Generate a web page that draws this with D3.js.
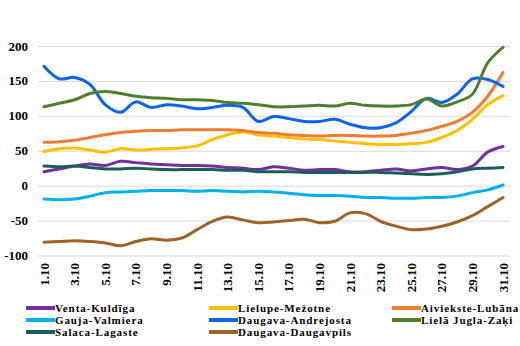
<!DOCTYPE html>
<html lang="lv">
<head>
<meta charset="UTF-8">
<title>Ūdens līmenis</title>
<script src="https://cdn.jsdelivr.net/npm/d3@7"></script>
<style>
  body { margin: 0; background: #fff; }
  text { font-family: "Liberation Serif", "Times New Roman", serif; font-weight: bold; fill: #000; }
  .grid line { stroke: #d9d9d9; stroke-width: 1; }
  .grid .domain { display: none; }
  .line { fill: none; stroke-width: 3; stroke-linecap: round; stroke-linejoin: round; }
</style>
</head>
<body>
<svg width="520" height="346"></svg>
<script>
// days of October
var days = d3.range(1, 32).map(function(d) { return d + ".10"; });
var yTicks = [-100, -50, 0, 50, 100, 150, 200];

var venta      = [20,24,28,31,29,35,33,31,30,29,29,28,26,25,23,27,25,22,23,23,20,20,22,24,21,24,26,23,28,48,56];
var lielupe    = [49,53,54,51,48,53,51,52,53,54,57,66,73,77,73,71,69,67,66,64,62,60,59,59,60,62,69,79,95,116,129];
var aiviekste  = [62,63,65,69,73,76,78,79,79,80,80,80,80,79,76,75,73,72,71,72,72,71,71,72,75,79,85,92,105,128,162];
var gauja      = [-19,-20,-19,-15,-10,-9,-8,-7,-7,-7,-8,-7,-8,-9,-8,-9,-11,-13,-14,-14,-15,-17,-17,-18,-18,-17,-17,-15,-10,-6,1];
var andrejosta = [171,153,155,145,116,105,120,112,116,114,110,112,115,112,92,99,96,92,92,95,88,83,83,90,106,125,119,131,153,152,142];
var jugla      = [113,118,123,132,135,132,128,126,125,123,123,122,119,118,116,113,113,114,115,114,118,115,114,114,116,124,114,120,131,176,198];
var salaca     = [28,27,28,26,24,24,25,24,23,23,23,23,22,22,20,20,20,19,19,19,19,19,19,18,17,16,17,20,24,25,26];
var daugavpils = [-81,-80,-79,-80,-82,-86,-80,-76,-78,-75,-63,-51,-45,-49,-53,-52,-50,-48,-53,-51,-39,-40,-51,-58,-63,-62,-58,-52,-43,-30,-17];

var series = [
  { name: "Venta-Kuldīga",       values: venta,      color: "#7030a0" },
  { name: "Lielupe-Mežotne",     values: lielupe,    color: "#ffc000" },
  { name: "Aiviekste-Lubāna",    values: aiviekste,  color: "#ed7d31" },
  { name: "Gauja-Valmiera",      values: gauja,      color: "#00b0f0" },
  { name: "Daugava-Andrejosta",  values: andrejosta, color: "#0a64f0" },
  { name: "Lielā Jugla-Zaķi",    values: jugla,      color: "#4f7f2c" },
  { name: "Salaca-Lagaste",      values: salaca,     color: "#1d5d5b" },
  { name: "Daugava-Daugavpils",  values: daugavpils, color: "#9e6427" }
];

var svg = d3.select("svg");

var x = d3.scalePoint().domain(days).range([44, 503]);
var y = d3.scaleLinear().domain([-100, 200]).range([255.5, 46]);

// horizontal grid
svg.append("g")
    .attr("class", "grid")
    .attr("transform", "translate(38,0)")
    .call(d3.axisRight(y).tickValues(yTicks).tickSize(472).tickFormat(""));

// y labels
svg.append("g").selectAll("text")
    .data(yTicks)
  .enter().append("text")
    .attr("x", 28)
    .attr("y", function(d) { return y(d); })
    .attr("dy", "0.35em")
    .attr("text-anchor", "end")
    .style("font-size", "13px")
    .text(function(d) { return d; });

// x labels, every second day, rotated
svg.append("g").selectAll("text")
    .data(days.filter(function(d, i) { return i % 2 === 0; }))
  .enter().append("text")
    .attr("transform", function(d) { return "translate(" + (x(d) + 4.5) + ",263) rotate(-90)"; })
    .attr("text-anchor", "end")
    .style("font-size", "13px")
    .text(function(d) { return d; });

var line = d3.line()
    .x(function(d, i) { return x(days[i]); })
    .y(function(d) { return y(d); })
    .curve(d3.curveCatmullRom.alpha(0.5));

svg.append("g").selectAll("path")
    .data(series)
  .enter().append("path")
    .attr("class", "line")
    .attr("stroke", function(d) { return d.color; })
    .attr("d", function(d) { return line(d.values); });

// legend, 3 columns
var colX = [26, 209, 392];
var rowY = [308, 320, 332];

var item = svg.append("g").selectAll("g")
    .data(series)
  .enter().append("g")
    .attr("transform", function(d, i) { return "translate(" + colX[i % 3] + "," + rowY[Math.floor(i / 3)] + ")"; });

item.append("line")
    .attr("x1", 0).attr("x2", 29)
    .attr("stroke", function(d) { return d.color; })
    .attr("stroke-width", 4);

item.append("text")
    .attr("x", 29)
    .attr("dy", "0.35em")
    .style("font-size", "11px")
    .style("letter-spacing", "0.9px")
    .text(function(d) { return d.name; });
</script>
</body>
</html>
